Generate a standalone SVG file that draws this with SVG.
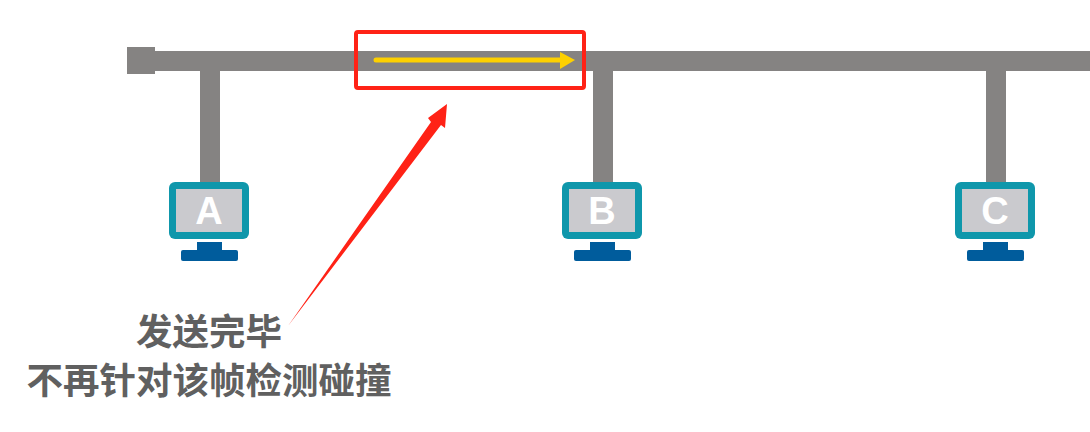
<svg xmlns="http://www.w3.org/2000/svg" width="1090" height="432" viewBox="0 0 1090 432">
<style>
.bus{fill:#858382}
.frame{fill:#0f97ab}
.screen{fill:#cacace}
.stand{fill:#005c9c}
.letter{font-family:"Liberation Sans",Arial,sans-serif;font-weight:700;font-size:38px;fill:#fff;text-anchor:middle}
.cap{font-family:"Noto Sans CJK SC",sans-serif;font-weight:700;font-size:36.5px;fill:#606060;text-anchor:middle}
</style>
<rect width="1090" height="432" fill="#fff"/>
<g id="connectors">
<rect class="bus" x="127" y="47" width="28" height="27"/>
<rect class="bus" x="150" y="51" width="940" height="20"/>
<rect class="bus" x="200" y="70" width="20" height="114"/>
<rect class="bus" x="593" y="70" width="20" height="114"/>
<rect class="bus" x="986" y="70" width="20" height="114"/>
</g>
<g id="node-a">
<rect class="frame" x="169" y="182" width="80" height="57" rx="6"/>
<rect class="screen" x="176" y="189" width="66" height="43"/>
<text class="letter" x="209" y="224">A</text>
<rect class="stand" x="197" y="242" width="25" height="10"/>
<rect class="stand" x="181" y="250" width="57" height="11" rx="2"/>
</g>
<g id="node-b">
<rect class="frame" x="562" y="182" width="80" height="57" rx="6"/>
<rect class="screen" x="569" y="189" width="66" height="43"/>
<text class="letter" x="602" y="224">B</text>
<rect class="stand" x="590" y="242" width="25" height="10"/>
<rect class="stand" x="574" y="250" width="57" height="11" rx="2"/>
</g>
<g id="node-c">
<rect class="frame" x="955" y="182" width="80" height="57" rx="6"/>
<rect class="screen" x="962" y="189" width="66" height="43"/>
<text class="letter" x="995" y="224">C</text>
<rect class="stand" x="983" y="242" width="25" height="10"/>
<rect class="stand" x="967" y="250" width="57" height="11" rx="2"/>
</g>
<g id="signal">
<path d="M376 60H562" stroke="#fdd000" stroke-width="5" stroke-linecap="round" fill="none"/>
<path d="M560 52L575 60L560 69Z" fill="#fdd000"/>
</g>
<g id="highlight">
<rect x="356" y="32" width="228" height="56" rx="2" fill="none" stroke="#ff2216" stroke-width="4"/>
<path d="M288 326L431 122L428 118L447 104L445 128L441 125Z" fill="#ff2216"/>
</g>
<g id="caption">
<text class="cap" x="209" y="345">发送完毕</text>
<text class="cap" x="209" y="394">不再针对该帧检测碰撞</text>
</g>
</svg>
